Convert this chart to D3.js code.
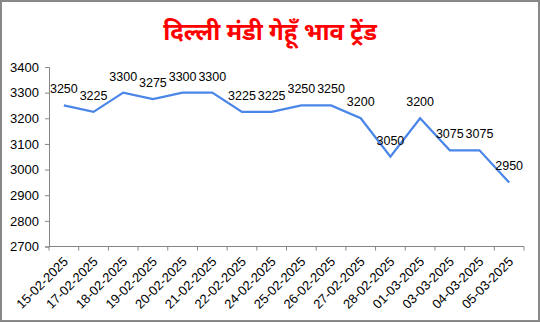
<!DOCTYPE html>
<html>
<head>
<meta charset="utf-8">
<script src="https://cdn.jsdelivr.net/npm/d3@7"></script>
<style>
  body { margin: 0; background: #fff; }
  svg { display: block; }
</style>
</head>
<body>
<svg id="mainsvg" width="540" height="323"></svg>
<script>
const title = 'दिल्ली मंडी गेहूँ भाव ट्रेंड'
const dates = ['15-02-2025','17-02-2025','18-02-2025','19-02-2025','20-02-2025','21-02-2025','22-02-2025','24-02-2025',
  '25-02-2025','26-02-2025','27-02-2025','28-02-2025','01-03-2025','03-03-2025','04-03-2025','05-03-2025']
const prices = [3250,3225,3300,3275,3300,3300,3225,3225,3250,3250,3200,3050,3200,3075,3075,2950]
const yTicks = [2700,2800,2900,3000,3100,3200,3300,3400]

const svg = d3.select('#mainsvg')
const W = 540, H = 323
const plot = {left: 49, right: 524, top: 67, bottom: 246.5}
const axisColor = '#868686'

// outer frame
svg.append('rect')
  .attr('x', 1).attr('y', 1)
  .attr('width', W - 2).attr('height', H - 3)
  .attr('fill', '#fff')
  .attr('stroke', '#888').attr('stroke-width', 2)

svg.append('text')
  .attr('x', 270).attr('y', 40)
  .attr('text-anchor', 'middle')
  .attr('fill', '#ff0000')
  .attr('font-weight', 'bold')
  .attr('font-size', '24px')
  .attr('font-family', '"Noto Sans Devanagari","Noto Sans","Lohit Devanagari",sans-serif')
  .text(title)

const x = d3.scaleBand().domain(dates).range([plot.left, plot.right])
const y = d3.scaleLinear().domain([2700, 3400]).range([plot.bottom, plot.top])

// y axis
const gy = svg.append('g')
  .attr('transform', `translate(${plot.left},0)`)
  .call(d3.axisLeft(y).tickValues(yTicks).tickSize(4).tickPadding(6).tickFormat(d3.format('d')))
gy.select('.domain').attr('stroke', axisColor)
gy.selectAll('.tick line').attr('stroke', axisColor)
gy.selectAll('.tick text')
  .attr('font-family', '"Liberation Sans",Arial,sans-serif')
  .attr('font-size', '13px')
  .attr('fill', '#000')

// x axis, ticks at band edges
const gx = svg.append('g')
  .attr('transform', `translate(0,${plot.bottom})`)
gx.append('line')
  .attr('x1', plot.left).attr('x2', plot.right)
  .attr('stroke', axisColor)
const edges = dates.map(d => x(d)).concat([x.range()[1]])
gx.selectAll('line.tk').data(edges).join('line')
  .attr('class', 'tk')
  .attr('x1', d => d).attr('x2', d => d)
  .attr('y1', 0).attr('y2', 4)
  .attr('stroke', axisColor)
gx.selectAll('text').data(dates).join('text')
  .attr('transform', d => `translate(${x(d) + x.bandwidth() / 2 + 5},${16}) rotate(-45)`)
  .attr('text-anchor', 'end')
  .attr('font-family', '"Liberation Sans",Arial,sans-serif')
  .attr('font-size', '13px')
  .attr('fill', '#000')
  .text(d => d)

// line
const line = d3.line()
  .x((d, i) => x(dates[i]) + x.bandwidth() / 2)
  .y(d => y(d))
svg.append('path')
  .datum(prices)
  .attr('d', line)
  .attr('fill', 'none')
  .attr('stroke', '#4a86e8')
  .attr('stroke-width', 2.25)

// labels
svg.append('g').selectAll('text').data(prices).join('text')
  .attr('x', (d, i) => x(dates[i]) + x.bandwidth() / 2)
  .attr('y', d => y(d) - 12)
  .attr('text-anchor', 'middle')
  .attr('font-family', '"Liberation Sans",Arial,sans-serif')
  .attr('font-size', '12.5px')
  .attr('fill', '#000')
  .text(d => d)
</script>
</body>
</html>
